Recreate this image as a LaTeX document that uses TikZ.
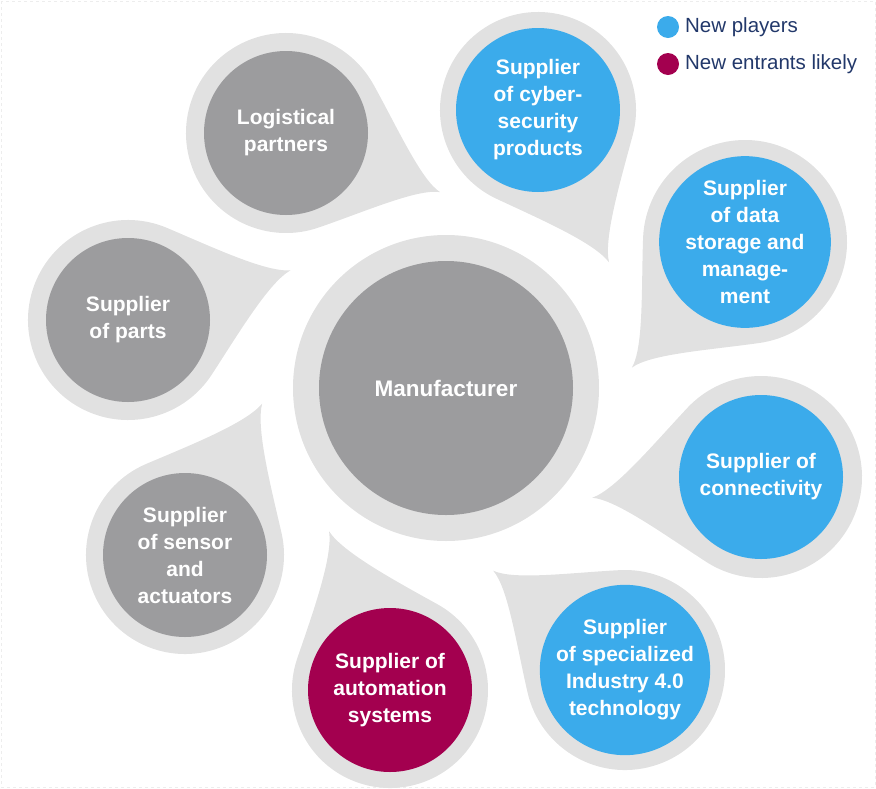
\documentclass[tikz,border=0pt]{standalone}
\usepackage{fontspec}
\setmainfont{Liberation Sans}
\usepackage{tikz}
\definecolor{ringgrey}{HTML}{E1E1E1}
\definecolor{diskgrey}{HTML}{9C9C9E}
\definecolor{playerblue}{HTML}{3BABEB}
\definecolor{entrantred}{HTML}{A3004F}
\definecolor{legendnavy}{HTML}{22386A}
\tikzset{every picture/.style={line width=0.75pt}}
\tikzset{
  disk/.style={circle,minimum size=164pt,inner sep=0pt,align=center,text=white,font=\fontsize{21}{27}\selectfont\bfseries},
  incumbent/.style={disk,fill=diskgrey},
  newplayer/.style={disk,fill=playerblue},
  entrant/.style={disk,fill=entrantred},
  keydot/.style={circle,minimum size=22pt,inner sep=0pt},
  keytext/.style={anchor=west,inner sep=0.75pt,text=legendnavy,font=\fontsize{20.5}{24}\selectfont},
}
% light ring with a tail: centre x, centre y, ring radius, tail angle, tail length
\newcommand{\droplet}[5]{%
  \begin{scope}[shift={(#1,#2)},rotate=#4]
  \fill[ringgrey] (50:#3) .. controls +(-40:{0.5*#3}) and +(168:{0.35*(#5-#3)}) .. (#5,0)
    .. controls +(192:{0.35*(#5-#3)}) and +(40:{0.5*#3}) .. (-50:#3)
    arc[start angle=-50,end angle=-310,radius=#3pt] -- cycle;
  \end{scope}}

\begin{document}
\begin{tikzpicture}[x=1pt,y=1pt,yscale=-1,xscale=1]
\useasboundingbox (0,0) rectangle (876,788);
\draw[black!7,dashed,line width=0.5pt] (1,1) rectangle (875,787);
% rings and tails
\droplet{286}{133}{100}{21}{165}
\droplet{538}{110}{98}{65}{168}
\droplet{745}{242}{102}{132}{169}
\droplet{761}{477}{101}{173}{170}
\droplet{625}{670}{100}{-143}{165}
\droplet{390}{690}{98}{-111}{170}
\droplet{185}{555}{99}{-63}{170}
\droplet{128}{320}{100}{-17}{170}
\fill[ringgrey] (446,388) circle (153);
% disks
\node[incumbent,minimum size=254pt,font=\fontsize{22.5}{27}\selectfont\bfseries] (manufacturer) at (446,388) {Manufacturer};
\node[incumbent] (logistics) at (286,133) {Logistical\\partners};
\node[newplayer] (cybersec) at (538,110) {Supplier\\of cyber-\\security\\products};
\node[newplayer] (datastore) at (745,242) {Supplier\\of data\\storage and\\manage-\\ment};
\node[newplayer] (connect) at (761,477) {Supplier of\\connectivity};
\node[newplayer] (industry) at (625,670) {Supplier\\of specialized\\Industry 4.0\\technology};
\node[entrant] (automation) at (390,690) {Supplier of\\automation\\systems};
\node[incumbent] (sensors) at (185,555) {Supplier\\of sensor\\and\\actuators};
\node[incumbent] (parts) at (128,320) {Supplier\\of parts};
% legend
\node[keydot,fill=playerblue] (keyplayer) at (668,27) {};
\node[keytext] (keyplayertext) at (684,27) {New players};
\node[keydot,fill=entrantred] (keyentrant) at (668,64) {};
\node[keytext] (keyentranttext) at (684,64) {New entrants likely};
\end{tikzpicture}
\end{document}
